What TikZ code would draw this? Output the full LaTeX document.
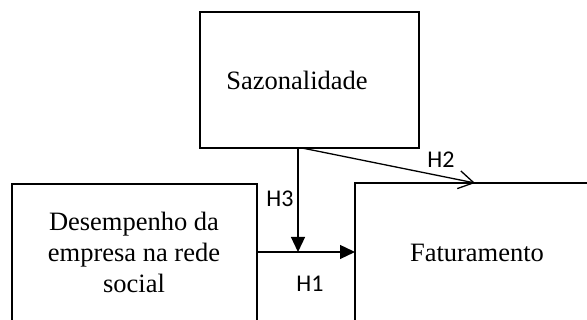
\documentclass[tikz,border=0pt]{standalone}
\usepackage{fontspec}
\setmainfont{Liberation Serif}
\newfontfamily\hypfont{Carlito}
\usetikzlibrary{arrows.meta}

\begin{document}
\begin{tikzpicture}[x=1pt, y=1pt]
	\def\Wbox{2.8pt}
	\def\Wlink{1.3pt}
	\tikzset{
		box/.style={draw, rectangle, line width=\Wbox, outer sep=0pt, inner sep=0pt},
		txt/.style={font=\fontsize{26.5}{31}\selectfont, align=center},
		hyp/.style={font=\hypfont\fontsize{24}{28}\selectfont},
		link/.style={line width=\Wlink}
	}

	\useasboundingbox		(0,0) rectangle (587,320);
	\clip					(0,0) rectangle (587,320);

	% boxes
	\node[box, minimum width=219, minimum height=136]	(saz) at (309.5,240) {};
	\node[box, minimum width=245, minimum height=156]	(desemp) at (134.5,58) {};
	\node[box, minimum width=295, minimum height=157]	(fat) at (502.5,58.5) {};

	\node[txt, anchor=base]		(sazTxt) at (297,230) {Sazonalidade};
	\node[txt]				(desempTxt) at (134,67.5) {Desempenho da\\empresa na rede\\social};
	\node[txt, anchor=base]		(fatTxt) at (477,58) {Faturamento};

	% connectors
	\coordinate				(meet) at (298,68);
	\coordinate				(hsrc) at (302,172);
	\coordinate				(htip) at ([xshift=120pt]fat.north west);
	\draw[link, -{Triangle[length=15pt, width=14pt]}]		(desemp.east |- meet) -- (fat.west |- meet);
	\draw[link, -{Triangle[length=15pt, width=14pt]}]		(meet |- saz.south) -- (meet);
	\draw[link, -{Straight Barb[length=15pt, width=18pt]}]	(hsrc) -- (htip);

	\node[hyp]				(hOne) at (310,36) {H1};
	\node[hyp]				(hTwo) at (441,160) {H2};
	\node[hyp]				(hThree) at (280,121) {H3};
\end{tikzpicture}
\end{document}
